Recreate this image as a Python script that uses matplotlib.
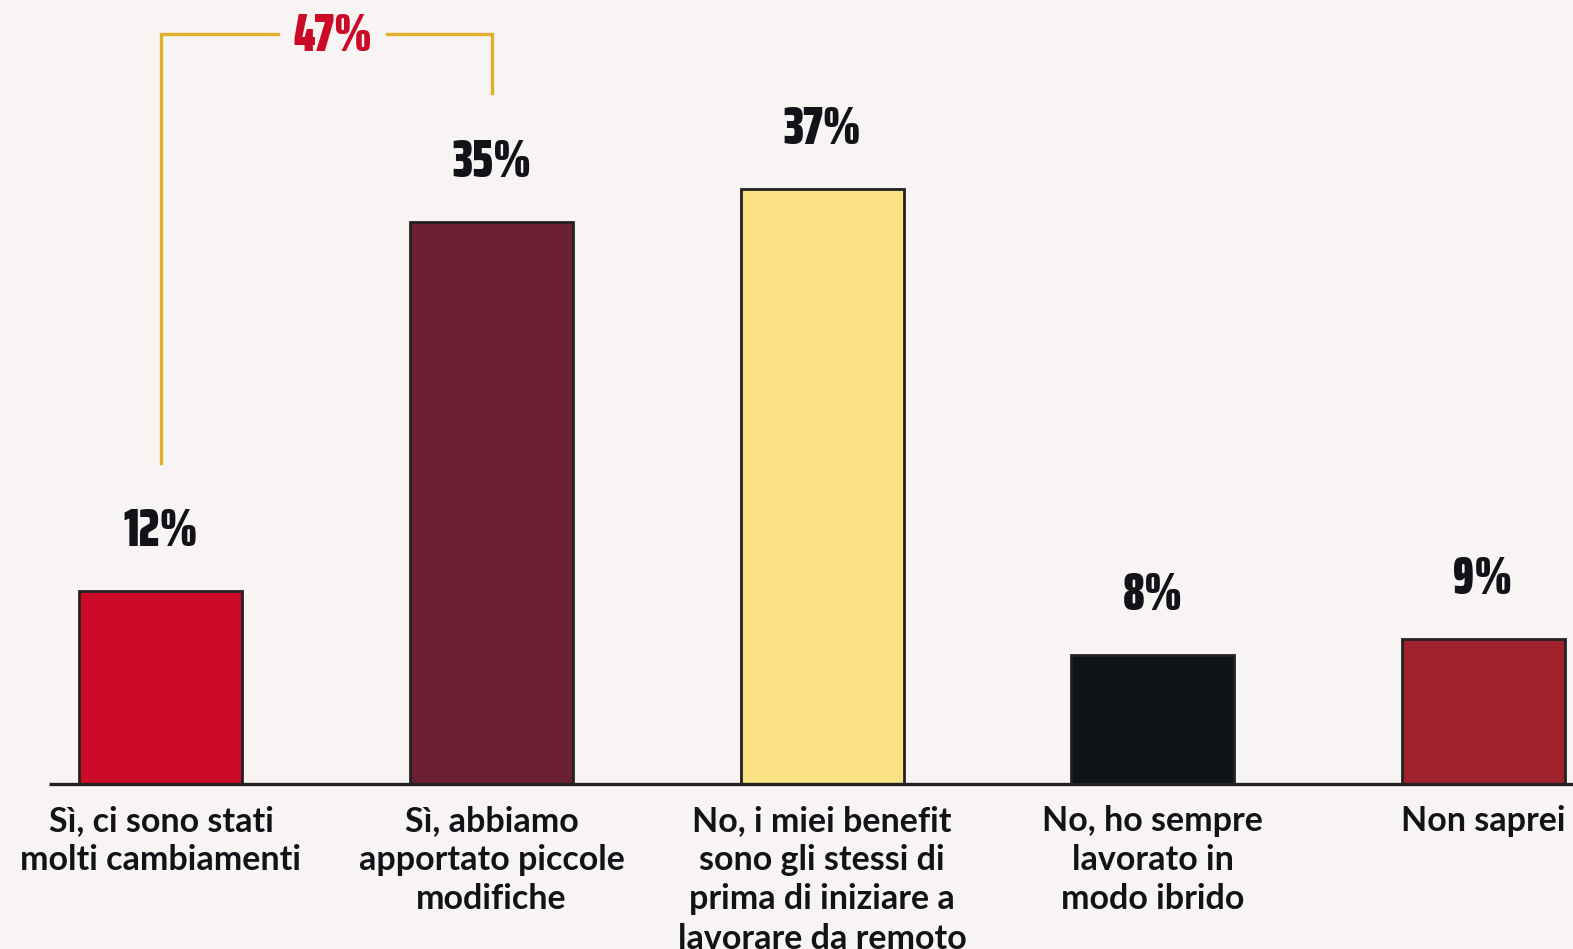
import matplotlib
matplotlib.use("Agg")
import matplotlib.pyplot as plt

categories = [
    "Sì, ci sono stati\nmolti cambiamenti",
    "Sì, abbiamo\napportato piccole\nmodifiche",
    "No, i miei benefit\nsono gli stessi di\nprima di iniziare a\nlavorare da remoto",
    "No, ho sempre\nlavorato in\nmodo ibrido",
    "Non saprei",
]
values = [12, 35, 37, 8, 9]
value_labels = ["12%", "35%", "37%", "8%", "9%"]
bar_colors = ["#CA0A27", "#6B1F32", "#FAE284", "#0F1217", "#A0222C"]
combined_label = "47%"

BG = "#F8F4F3"
EDGE = "#222222"
GOLD = "#E2B02C"
RED = "#CA0A27"
INK = "#111318"

num_font = ["Saira ExtraCondensed", "DejaVu Sans"]
cat_font = ["Lato", "DejaVu Sans"]

fig = plt.figure(figsize=(15.73, 9.49), dpi=100, facecolor=BG)
ax = fig.add_axes([0, 0, 1, 1])
ax.set_facecolor(BG)

x = list(range(len(values)))
ax.bar(x, values, width=0.493, color=bar_colors, edgecolor=EDGE, linewidth=2, zorder=3)

ax.set_xlim(-0.487, 4.272)
ax.set_ylim(-10.27, 48.79)
ax.axis("off")

# baseline
ax.plot([-0.339, 4.272], [0, 0], color=EDGE, linewidth=2.4, zorder=4, solid_capstyle="butt")

# value labels above bars
for xi, v, lab in zip(x, values, value_labels):
    ax.text(xi, v + 3.7, lab, ha="center", va="center", fontsize=39,
            fontweight="black", family=num_font, color=INK)

# category labels below baseline
for xi, cat in zip(x, categories):
    ax.text(xi, -1.3, cat, ha="center", va="top", fontsize=24.5,
            fontweight="bold", family=cat_font, color=INK, linespacing=1.28)

# bracket joining the first two answers
top = 46.7
gap_c = 0.52
gap_half = 0.165
ax.plot([0, 0, gap_c - gap_half], [values[0] + 8, top, top], color=GOLD, linewidth=2.4,
        solid_joinstyle="miter", zorder=2)
ax.plot([gap_c + gap_half, 1, 1], [top, top, values[1] + 8], color=GOLD, linewidth=2.4,
        solid_joinstyle="miter", zorder=2)
ax.text(gap_c, top - 0.2, combined_label, ha="center", va="center", fontsize=39,
        fontweight="black", family=num_font, color=RED)

fig.savefig("out.png", dpi=100, facecolor=BG)
